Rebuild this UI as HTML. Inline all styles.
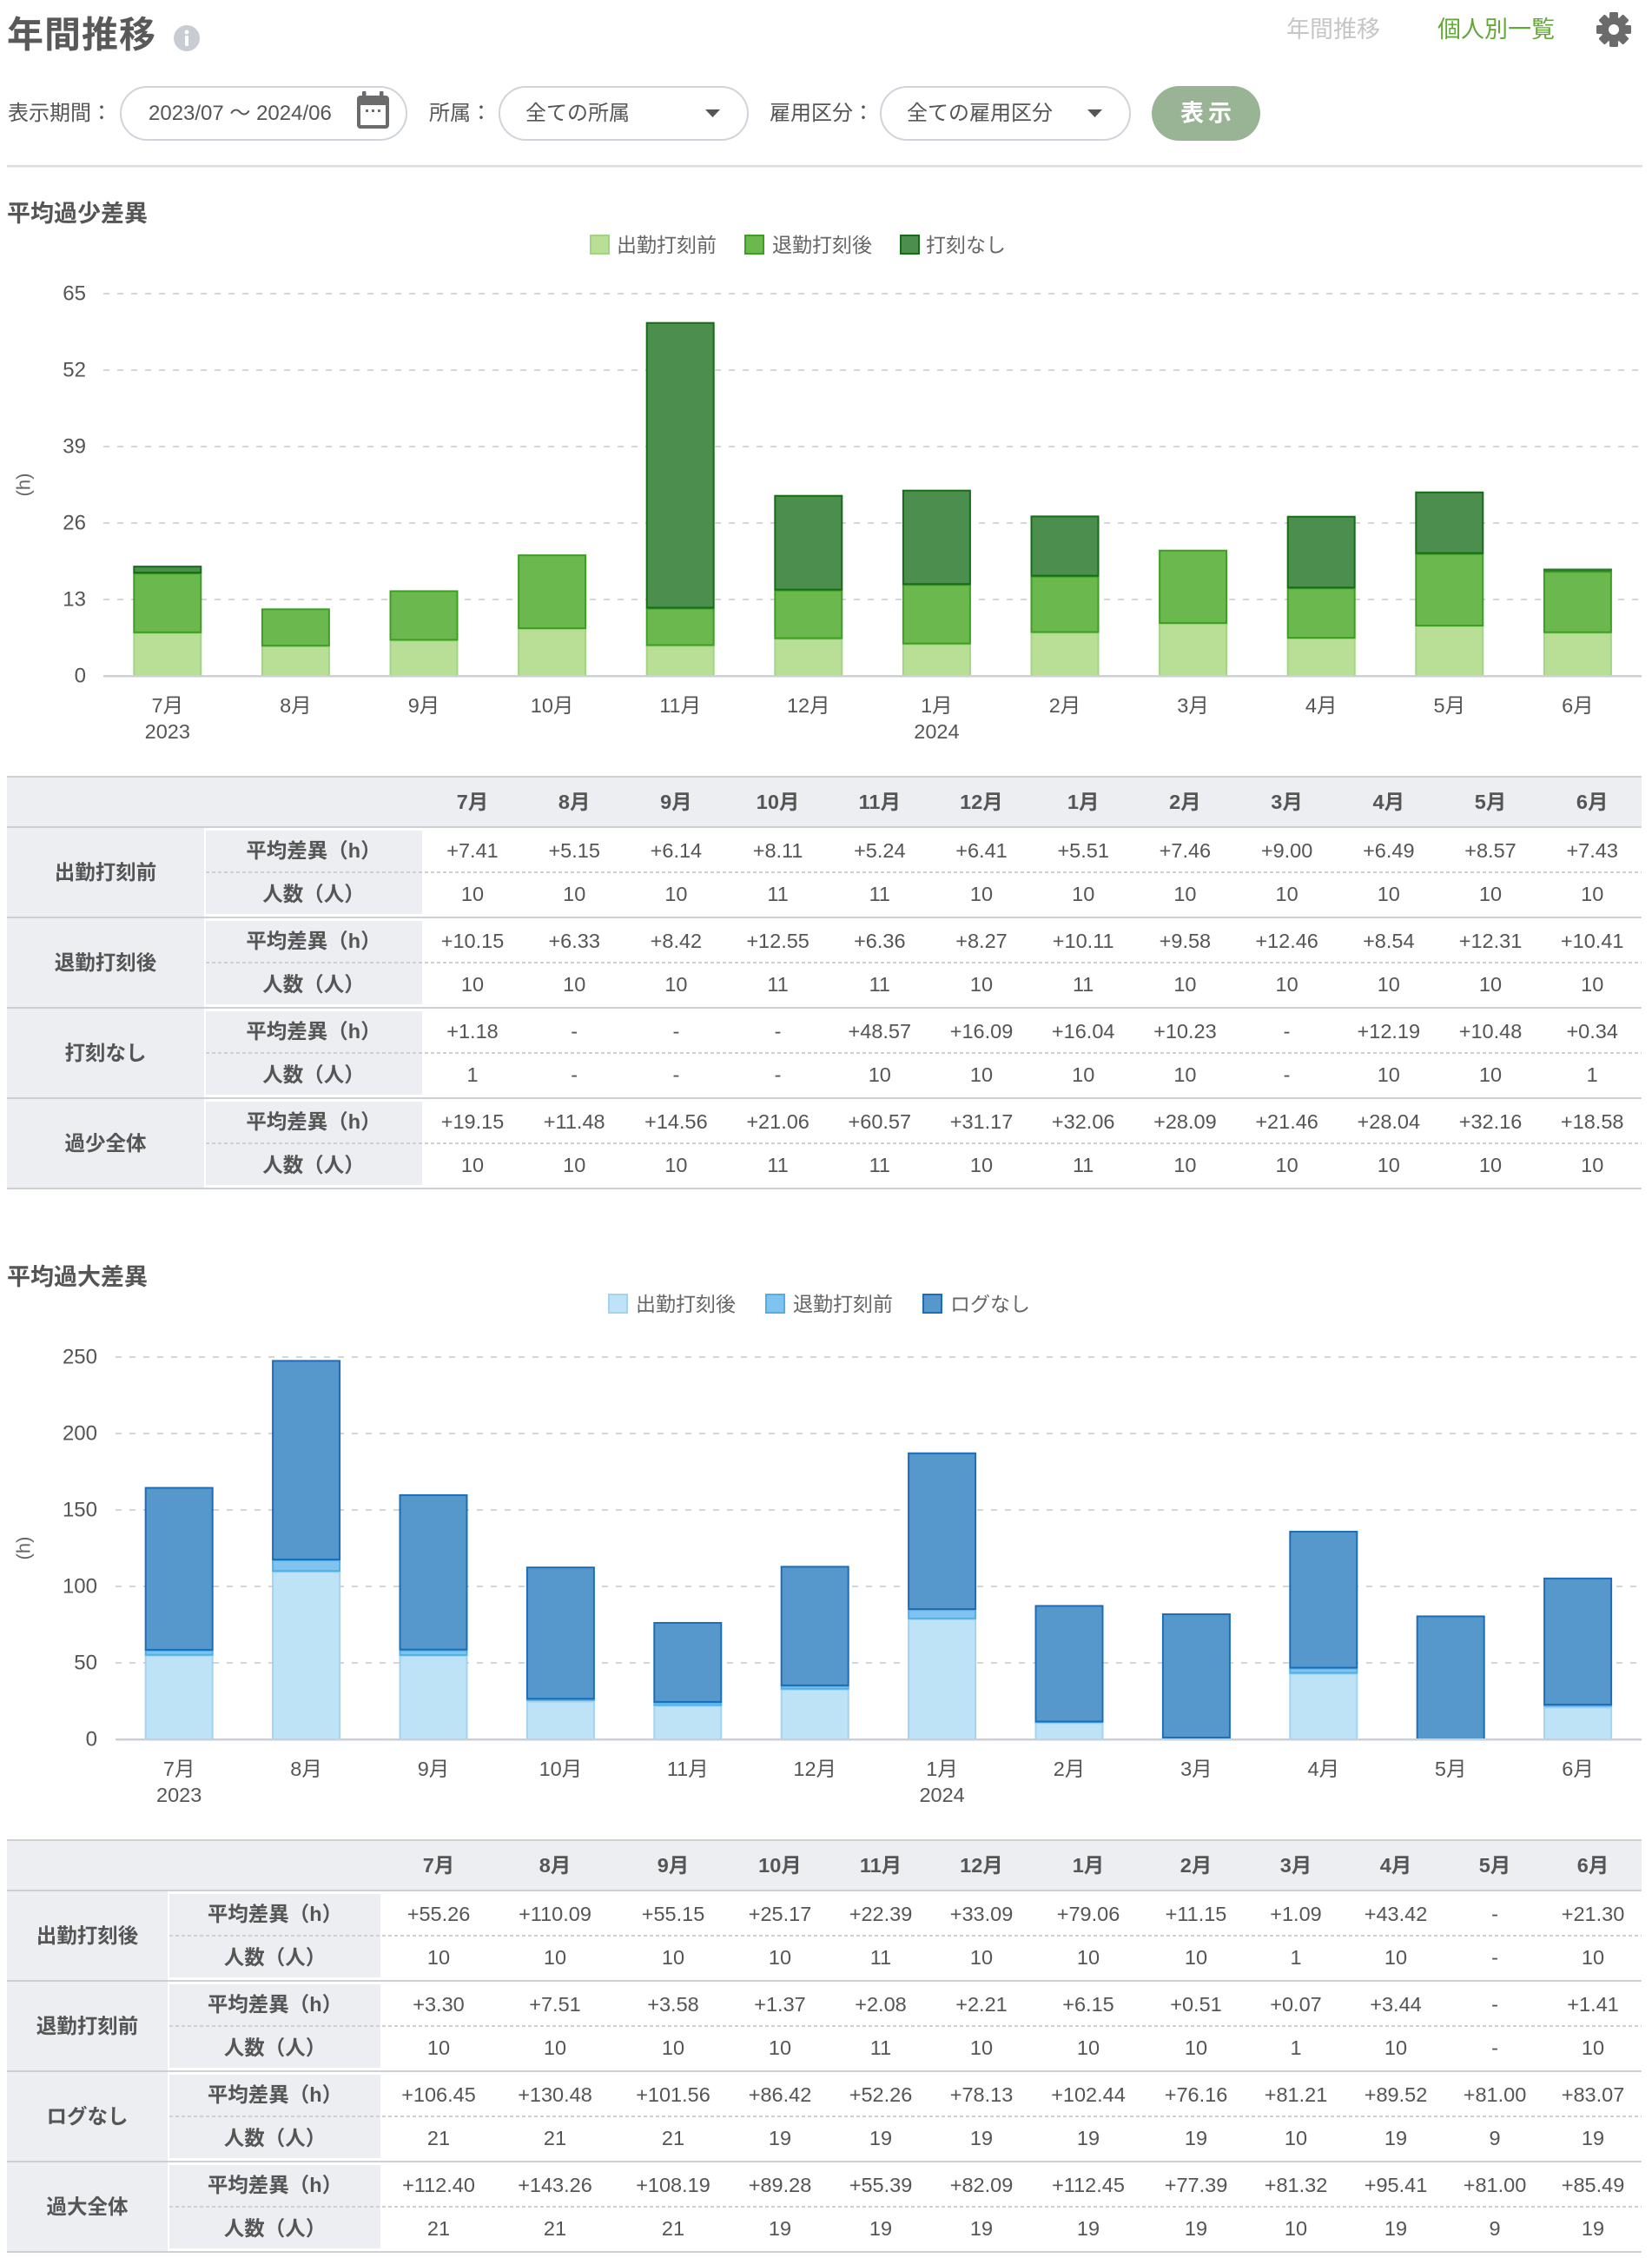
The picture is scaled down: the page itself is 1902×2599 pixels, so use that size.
<!DOCTYPE html>
<html><head><meta charset="utf-8">
<style>
html,body{margin:0;padding:0;background:#fff;}
body{width:1902px;height:2599px;overflow:hidden;}
svg{display:block;font-family:"Liberation Sans","Noto Sans CJK JP",sans-serif;}
text{fill:#555;dominant-baseline:central;}
.b{font-weight:bold;}
.m{text-anchor:middle;}
.e{text-anchor:end;}
</style></head><body>
<svg width="1902" height="2599" viewBox="0 0 1902 2599" xmlns="http://www.w3.org/2000/svg">
<!-- ===== Header ===== -->
<text x="8" y="40" font-size="42" class="b" style="fill:#595959" letter-spacing="1">年間推移</text>
<circle cx="215" cy="44" r="15" fill="#c8cdd3"/>
<circle cx="215" cy="37" r="2.4" fill="#fff"/>
<rect x="213" y="41" width="4" height="12" rx="1" fill="#fff"/>
<text x="1481" y="34" font-size="27" style="fill:#c6c6c6">年間推移</text>
<text x="1655" y="34" font-size="27" style="fill:#62a834">個人別一覧</text>
<g transform="translate(1858,34)" fill="#6b6b6b">
<circle r="14.5"/>
<rect x="-5" y="-20" width="10" height="40" rx="1.5"/>
<rect x="-5" y="-20" width="10" height="40" rx="1.5" transform="rotate(45)"/>
<rect x="-5" y="-20" width="10" height="40" rx="1.5" transform="rotate(90)"/>
<rect x="-5" y="-20" width="10" height="40" rx="1.5" transform="rotate(135)"/>
<circle r="6" fill="#fff"/>
</g>
<!-- filters -->
<text x="9" y="130.5" font-size="24">表示期間：</text>
<rect x="139" y="100" width="329" height="61" rx="30.5" fill="#fff" stroke="#cfd4da" stroke-width="2"/>
<text x="171" y="130.5" font-size="24">2023/07 〜 2024/06</text>
<g fill="#6b6b6b">
<rect x="417" y="105" width="4.5" height="9" rx="1"/>
<rect x="437" y="105" width="4.5" height="9" rx="1"/>
<rect x="411" y="110" width="37" height="38" rx="4"/>
<rect x="415" y="121" width="29" height="23" fill="#fff"/>
<rect x="421" y="126" width="3" height="3"/>
<rect x="428" y="126" width="3" height="3"/>
<rect x="435" y="126" width="3" height="3"/>
</g>
<text x="494" y="130.5" font-size="24">所属：</text>
<rect x="575" y="100" width="286" height="61" rx="30.5" fill="#fff" stroke="#cfd4da" stroke-width="2"/>
<text x="605" y="130.5" font-size="24">全ての所属</text>
<polygon points="812,126 829,126 820.5,135" fill="#555"/>
<text x="886" y="130.5" font-size="24">雇用区分：</text>
<rect x="1014" y="100" width="287" height="61" rx="30.5" fill="#fff" stroke="#cfd4da" stroke-width="2"/>
<text x="1044" y="130.5" font-size="24">全ての雇用区分</text>
<polygon points="1252,126 1269,126 1260.5,135" fill="#555"/>
<rect x="1326" y="99" width="125" height="63" rx="31.5" fill="#98b494"/>
<text x="1391" y="130.5" font-size="27" class="b m" style="fill:#fff" letter-spacing="5">表示</text>
<rect x="8" y="190" width="1883" height="2.5" fill="#dadde1"/>

<!-- ===== Chart 1 ===== -->
<text x="8" y="246" font-size="27" class="b">平均過少差異</text>
<rect x="680" y="271" width="21" height="21" fill="#b9df96" stroke="#a2d583" stroke-width="2"/>
<text x="710" y="282" font-size="23" style="fill:#666">出勤打刻前</text>
<rect x="858" y="271" width="21" height="21" fill="#6ab84e" stroke="#3c9f22" stroke-width="2"/>
<text x="889" y="282" font-size="23" style="fill:#666">退勤打刻後</text>
<rect x="1037" y="271" width="21" height="21" fill="#4b8e4d" stroke="#156d16" stroke-width="2"/>
<text x="1066" y="282" font-size="23" style="fill:#666">打刻なし</text>
<g stroke="#d3d6db" stroke-width="2" stroke-dasharray="7 9">
<line x1="119" x2="1890" y1="338" y2="338"/>
<line x1="119" x2="1890" y1="426" y2="426"/>
<line x1="119" x2="1890" y1="514" y2="514"/>
<line x1="119" x2="1890" y1="602" y2="602"/>
<line x1="119" x2="1890" y1="690" y2="690"/>
</g>
<g font-size="24" class="e">
<text x="99" y="338" class="e">65</text>
<text x="99" y="426" class="e">52</text>
<text x="99" y="514" class="e">39</text>
<text x="99" y="602" class="e">26</text>
<text x="99" y="690" class="e">13</text>
<text x="99" y="778" class="e">0</text>
</g>
<text transform="translate(27,558) rotate(-90)" font-size="22" class="m" style="fill:#666">(h)</text>
<!-- bars chart1 -->
<g stroke-width="2">
<g fill="#b9df96" stroke="#a2d583">
<rect x="154.3" y="728.84" width="77" height="49.16"/>
<rect x="301.9" y="744.14" width="77" height="33.86"/>
<rect x="449.5" y="737.44" width="77" height="40.56"/>
<rect x="597.1" y="724.10" width="77" height="53.90"/>
<rect x="744.7" y="743.53" width="77" height="34.47"/>
<rect x="892.3" y="735.61" width="77" height="42.39"/>
<rect x="1039.9" y="741.70" width="77" height="36.30"/>
<rect x="1187.5" y="728.50" width="77" height="49.50"/>
<rect x="1335.1" y="718.08" width="77" height="59.92"/>
<rect x="1482.7" y="735.07" width="77" height="42.93"/>
<rect x="1630.3" y="720.99" width="77" height="57.01"/>
<rect x="1777.9" y="728.70" width="77" height="49.30"/>
</g>
<g fill="#6ab84e" stroke="#3c9f22">
<rect x="154.3" y="660.13" width="77" height="67.71"/>
<rect x="301.9" y="701.29" width="77" height="41.85"/>
<rect x="449.5" y="680.44" width="77" height="56.00"/>
<rect x="597.1" y="639.15" width="77" height="83.95"/>
<rect x="744.7" y="700.48" width="77" height="42.05"/>
<rect x="892.3" y="679.63" width="77" height="54.98"/>
<rect x="1039.9" y="673.26" width="77" height="67.44"/>
<rect x="1187.5" y="663.65" width="77" height="63.85"/>
<rect x="1335.1" y="633.74" width="77" height="83.34"/>
<rect x="1482.7" y="677.26" width="77" height="56.81"/>
<rect x="1630.3" y="637.66" width="77" height="82.33"/>
<rect x="1777.9" y="658.23" width="77" height="69.47"/>
</g>
<g fill="#4b8e4d" stroke="#156d16">
<rect x="154.3" y="652.14" width="77" height="6.99"/>
<rect x="744.7" y="371.70" width="77" height="327.78"/>
<rect x="892.3" y="570.71" width="77" height="107.92"/>
<rect x="1039.9" y="564.68" width="77" height="107.58"/>
<rect x="1187.5" y="594.40" width="77" height="68.25"/>
<rect x="1482.7" y="594.74" width="77" height="81.52"/>
<rect x="1630.3" y="566.72" width="77" height="69.94"/>
</g>
<rect x="1776.9" y="654.5" width="79" height="3" fill="#2a7a2b" stroke="none"/>
</g>
<rect x="119" y="777" width="1771" height="2.5" fill="#cbd0d6"/>
<g font-size="23.5">
<text x="192.8" y="812" class="m">7月</text>
<text x="192.8" y="842" class="m">2023</text>
<text x="340.4" y="812" class="m">8月</text>
<text x="488" y="812" class="m">9月</text>
<text x="635.6" y="812" class="m">10月</text>
<text x="783.2" y="812" class="m">11月</text>
<text x="930.8" y="812" class="m">12月</text>
<text x="1078.4" y="812" class="m">1月</text>
<text x="1078.4" y="842" class="m">2024</text>
<text x="1226" y="812" class="m">2月</text>
<text x="1373.6" y="812" class="m">3月</text>
<text x="1521.2" y="812" class="m">4月</text>
<text x="1668.8" y="812" class="m">5月</text>
<text x="1816.4" y="812" class="m">6月</text>
</g>

<!-- ===== Table 1 ===== -->
<rect x="8" y="895" width="1882" height="56" fill="#eceef1"/>
<g fill="#eceef1">
<rect x="8" y="953" width="227" height="102"/>
<rect x="8" y="1057" width="227" height="102"/>
<rect x="8" y="1161" width="227" height="102"/>
<rect x="8" y="1265" width="227" height="102"/>
<rect x="237" y="956" width="249" height="96"/>
<rect x="237" y="1060" width="249" height="96"/>
<rect x="237" y="1164" width="249" height="96"/>
<rect x="237" y="1268" width="249" height="96"/>
</g>
<g fill="#cdd1d6">
<rect x="8" y="893" width="1882" height="2"/>
<rect x="8" y="951" width="1882" height="2"/>
<rect x="8" y="1055" width="1882" height="2"/>
<rect x="8" y="1159" width="1882" height="2"/>
<rect x="8" y="1263" width="1882" height="2"/>
<rect x="8" y="1367" width="1882" height="2"/>
</g>
<g stroke="#cdd1d6" stroke-width="2" stroke-dasharray="4 3">
<line x1="237" x2="1890" y1="1004" y2="1004"/>
<line x1="237" x2="1890" y1="1108" y2="1108"/>
<line x1="237" x2="1890" y1="1212" y2="1212"/>
<line x1="237" x2="1890" y1="1316" y2="1316"/>
</g>
<g font-size="23.5" class="m">
<g class="b">
<text x="544" y="923" class="m b">7月</text>
<text x="661.2" y="923" class="m b">8月</text>
<text x="778.4" y="923" class="m b">9月</text>
<text x="895.6" y="923" class="m b">10月</text>
<text x="1012.8" y="923" class="m b">11月</text>
<text x="1130" y="923" class="m b">12月</text>
<text x="1247.2" y="923" class="m b">1月</text>
<text x="1364.4" y="923" class="m b">2月</text>
<text x="1481.6" y="923" class="m b">3月</text>
<text x="1598.8" y="923" class="m b">4月</text>
<text x="1716" y="923" class="m b">5月</text>
<text x="1833.2" y="923" class="m b">6月</text>
<text x="121.5" y="1004" class="m b">出勤打刻前</text>
<text x="121.5" y="1108" class="m b">退勤打刻後</text>
<text x="121.5" y="1212" class="m b">打刻なし</text>
<text x="121.5" y="1316" class="m b">過少全体</text>
<text x="361" y="979" class="m b">平均差異（h）</text>
<text x="361" y="1029" class="m b">人数（人）</text>
<text x="361" y="1083" class="m b">平均差異（h）</text>
<text x="361" y="1133" class="m b">人数（人）</text>
<text x="361" y="1187" class="m b">平均差異（h）</text>
<text x="361" y="1237" class="m b">人数（人）</text>
<text x="361" y="1291" class="m b">平均差異（h）</text>
<text x="361" y="1341" class="m b">人数（人）</text>
</g>
<!-- row 1 -->
<text x="544" y="979" class="m">+7.41</text><text x="661.2" y="979" class="m">+5.15</text><text x="778.4" y="979" class="m">+6.14</text><text x="895.6" y="979" class="m">+8.11</text><text x="1012.8" y="979" class="m">+5.24</text><text x="1130" y="979" class="m">+6.41</text><text x="1247.2" y="979" class="m">+5.51</text><text x="1364.4" y="979" class="m">+7.46</text><text x="1481.6" y="979" class="m">+9.00</text><text x="1598.8" y="979" class="m">+6.49</text><text x="1716" y="979" class="m">+8.57</text><text x="1833.2" y="979" class="m">+7.43</text>
<text x="544" y="1029" class="m">10</text><text x="661.2" y="1029" class="m">10</text><text x="778.4" y="1029" class="m">10</text><text x="895.6" y="1029" class="m">11</text><text x="1012.8" y="1029" class="m">11</text><text x="1130" y="1029" class="m">10</text><text x="1247.2" y="1029" class="m">10</text><text x="1364.4" y="1029" class="m">10</text><text x="1481.6" y="1029" class="m">10</text><text x="1598.8" y="1029" class="m">10</text><text x="1716" y="1029" class="m">10</text><text x="1833.2" y="1029" class="m">10</text>
<!-- row 2 -->
<text x="544" y="1083" class="m">+10.15</text><text x="661.2" y="1083" class="m">+6.33</text><text x="778.4" y="1083" class="m">+8.42</text><text x="895.6" y="1083" class="m">+12.55</text><text x="1012.8" y="1083" class="m">+6.36</text><text x="1130" y="1083" class="m">+8.27</text><text x="1247.2" y="1083" class="m">+10.11</text><text x="1364.4" y="1083" class="m">+9.58</text><text x="1481.6" y="1083" class="m">+12.46</text><text x="1598.8" y="1083" class="m">+8.54</text><text x="1716" y="1083" class="m">+12.31</text><text x="1833.2" y="1083" class="m">+10.41</text>
<text x="544" y="1133" class="m">10</text><text x="661.2" y="1133" class="m">10</text><text x="778.4" y="1133" class="m">10</text><text x="895.6" y="1133" class="m">11</text><text x="1012.8" y="1133" class="m">11</text><text x="1130" y="1133" class="m">10</text><text x="1247.2" y="1133" class="m">11</text><text x="1364.4" y="1133" class="m">10</text><text x="1481.6" y="1133" class="m">10</text><text x="1598.8" y="1133" class="m">10</text><text x="1716" y="1133" class="m">10</text><text x="1833.2" y="1133" class="m">10</text>
<!-- row 3 -->
<text x="544" y="1187" class="m">+1.18</text><text x="661.2" y="1187" class="m">-</text><text x="778.4" y="1187" class="m">-</text><text x="895.6" y="1187" class="m">-</text><text x="1012.8" y="1187" class="m">+48.57</text><text x="1130" y="1187" class="m">+16.09</text><text x="1247.2" y="1187" class="m">+16.04</text><text x="1364.4" y="1187" class="m">+10.23</text><text x="1481.6" y="1187" class="m">-</text><text x="1598.8" y="1187" class="m">+12.19</text><text x="1716" y="1187" class="m">+10.48</text><text x="1833.2" y="1187" class="m">+0.34</text>
<text x="544" y="1237" class="m">1</text><text x="661.2" y="1237" class="m">-</text><text x="778.4" y="1237" class="m">-</text><text x="895.6" y="1237" class="m">-</text><text x="1012.8" y="1237" class="m">10</text><text x="1130" y="1237" class="m">10</text><text x="1247.2" y="1237" class="m">10</text><text x="1364.4" y="1237" class="m">10</text><text x="1481.6" y="1237" class="m">-</text><text x="1598.8" y="1237" class="m">10</text><text x="1716" y="1237" class="m">10</text><text x="1833.2" y="1237" class="m">1</text>
<!-- row 4 -->
<text x="544" y="1291" class="m">+19.15</text><text x="661.2" y="1291" class="m">+11.48</text><text x="778.4" y="1291" class="m">+14.56</text><text x="895.6" y="1291" class="m">+21.06</text><text x="1012.8" y="1291" class="m">+60.57</text><text x="1130" y="1291" class="m">+31.17</text><text x="1247.2" y="1291" class="m">+32.06</text><text x="1364.4" y="1291" class="m">+28.09</text><text x="1481.6" y="1291" class="m">+21.46</text><text x="1598.8" y="1291" class="m">+28.04</text><text x="1716" y="1291" class="m">+32.16</text><text x="1833.2" y="1291" class="m">+18.58</text>
<text x="544" y="1341" class="m">10</text><text x="661.2" y="1341" class="m">10</text><text x="778.4" y="1341" class="m">10</text><text x="895.6" y="1341" class="m">11</text><text x="1012.8" y="1341" class="m">11</text><text x="1130" y="1341" class="m">10</text><text x="1247.2" y="1341" class="m">11</text><text x="1364.4" y="1341" class="m">10</text><text x="1481.6" y="1341" class="m">10</text><text x="1598.8" y="1341" class="m">10</text><text x="1716" y="1341" class="m">10</text><text x="1833.2" y="1341" class="m">10</text>
</g>

<!-- ===== Chart 2 ===== -->
<text x="8" y="1470" font-size="27" class="b">平均過大差異</text>
<rect x="701" y="1490" width="21" height="21" fill="#bee2f6" stroke="#a3d3f1" stroke-width="2"/>
<text x="732" y="1501" font-size="23" style="fill:#666">出勤打刻後</text>
<rect x="882" y="1490" width="21" height="21" fill="#7fc3ee" stroke="#4fb0e9" stroke-width="2"/>
<text x="913" y="1501" font-size="23" style="fill:#666">退勤打刻前</text>
<rect x="1063" y="1490" width="21" height="21" fill="#5698cc" stroke="#1c6db8" stroke-width="2"/>
<text x="1094" y="1501" font-size="23" style="fill:#666">ログなし</text>
<g stroke="#d3d6db" stroke-width="2" stroke-dasharray="7 9">
<line x1="133" x2="1890" y1="1562" y2="1562"/>
<line x1="133" x2="1890" y1="1650" y2="1650"/>
<line x1="133" x2="1890" y1="1738" y2="1738"/>
<line x1="133" x2="1890" y1="1826" y2="1826"/>
<line x1="133" x2="1890" y1="1914" y2="1914"/>
</g>
<g font-size="24">
<text x="112" y="1562" class="e">250</text>
<text x="112" y="1650" class="e">200</text>
<text x="112" y="1738" class="e">150</text>
<text x="112" y="1826" class="e">100</text>
<text x="112" y="1914" class="e">50</text>
<text x="112" y="2002" class="e">0</text>
</g>
<text transform="translate(27,1782) rotate(-90)" font-size="22" class="m" style="fill:#666">(h)</text>
<g stroke-width="2">
<g fill="#bee2f6" stroke="#a3d3f1">
<rect x="167.7" y="1905.74" width="77" height="96.26"/>
<rect x="314.1" y="1809.24" width="77" height="192.76"/>
<rect x="460.5" y="1905.94" width="77" height="96.06"/>
<rect x="606.9" y="1958.70" width="77" height="43.30"/>
<rect x="753.3" y="1963.59" width="77" height="38.41"/>
<rect x="899.7" y="1944.76" width="77" height="57.24"/>
<rect x="1046.1" y="1863.85" width="77" height="138.15"/>
<rect x="1192.5" y="1983.38" width="77" height="18.62"/>
<rect x="1485.3" y="1926.58" width="77" height="75.42"/>
<rect x="1778.1" y="1965.51" width="77" height="36.49"/>
</g>
<rect x="1337.9" y="2000" width="79" height="2" fill="#a3d3f1" stroke="none"/>
<g fill="#7fc3ee" stroke="#4fb0e9">
<rect x="167.7" y="1899.93" width="77" height="4.81"/>
<rect x="314.1" y="1796.02" width="77" height="12.22"/>
<rect x="460.5" y="1899.64" width="77" height="5.30"/>
<rect x="753.3" y="1959.93" width="77" height="2.66"/>
<rect x="899.7" y="1940.87" width="77" height="2.89"/>
<rect x="1046.1" y="1853.03" width="77" height="9.82"/>
<rect x="1485.3" y="1920.53" width="77" height="5.05"/>
</g>
<g fill="#4fb0e9" stroke="none">
<rect x="605.9" y="1955.3" width="79" height="2.6"/>
<rect x="1191.5" y="1981.4" width="79" height="1.8"/>
<rect x="1777.1" y="1962" width="79" height="2.6"/>
</g>
<g fill="#5698cc" stroke="#1c6db8">
<rect x="167.7" y="1712.58" width="77" height="186.35"/>
<rect x="314.1" y="1566.38" width="77" height="228.64"/>
<rect x="460.5" y="1720.89" width="77" height="177.75"/>
<rect x="606.9" y="1804.19" width="77" height="151.10"/>
<rect x="753.3" y="1867.95" width="77" height="90.98"/>
<rect x="899.7" y="1803.36" width="77" height="136.51"/>
<rect x="1046.1" y="1672.74" width="77" height="179.29"/>
<rect x="1192.5" y="1848.44" width="77" height="133.04"/>
<rect x="1338.9" y="1858.03" width="77" height="141.93"/>
<rect x="1485.3" y="1762.97" width="77" height="156.56"/>
<rect x="1631.7" y="1860.44" width="77" height="141.56"/>
<rect x="1778.1" y="1816.83" width="77" height="145.20"/>
</g>
</g>
<rect x="133" y="2001" width="1757" height="2.5" fill="#cbd0d6"/>
<g font-size="23.5">
<text x="206.2" y="2036" class="m">7月</text>
<text x="206.2" y="2066" class="m">2023</text>
<text x="352.6" y="2036" class="m">8月</text>
<text x="499" y="2036" class="m">9月</text>
<text x="645.4" y="2036" class="m">10月</text>
<text x="791.8" y="2036" class="m">11月</text>
<text x="938.2" y="2036" class="m">12月</text>
<text x="1084.6" y="2036" class="m">1月</text>
<text x="1084.6" y="2066" class="m">2024</text>
<text x="1231" y="2036" class="m">2月</text>
<text x="1377.4" y="2036" class="m">3月</text>
<text x="1523.8" y="2036" class="m">4月</text>
<text x="1670.2" y="2036" class="m">5月</text>
<text x="1816.6" y="2036" class="m">6月</text>
</g>

<!-- ===== Table 2 ===== -->
<rect x="8" y="2119" width="1882" height="56" fill="#eceef1"/>
<g fill="#eceef1">
<rect x="8" y="2177" width="185" height="102"/>
<rect x="8" y="2281" width="185" height="102"/>
<rect x="8" y="2385" width="185" height="102"/>
<rect x="8" y="2489" width="185" height="102"/>
<rect x="195" y="2180" width="243" height="96"/>
<rect x="195" y="2284" width="243" height="96"/>
<rect x="195" y="2388" width="243" height="96"/>
<rect x="195" y="2492" width="243" height="96"/>
</g>
<g fill="#cdd1d6">
<rect x="8" y="2117" width="1882" height="2"/>
<rect x="8" y="2175" width="1882" height="2"/>
<rect x="8" y="2279" width="1882" height="2"/>
<rect x="8" y="2383" width="1882" height="2"/>
<rect x="8" y="2487" width="1882" height="2"/>
<rect x="8" y="2591" width="1882" height="2"/>
</g>
<g stroke="#cdd1d6" stroke-width="2" stroke-dasharray="4 3">
<line x1="195" x2="1890" y1="2228" y2="2228"/>
<line x1="195" x2="1890" y1="2332" y2="2332"/>
<line x1="195" x2="1890" y1="2436" y2="2436"/>
<line x1="195" x2="1890" y1="2540" y2="2540"/>
</g>
<g font-size="23.5">
<text x="505" y="2147" class="m b">7月</text>
<text x="639" y="2147" class="m b">8月</text>
<text x="775" y="2147" class="m b">9月</text>
<text x="898" y="2147" class="m b">10月</text>
<text x="1014" y="2147" class="m b">11月</text>
<text x="1130" y="2147" class="m b">12月</text>
<text x="1253" y="2147" class="m b">1月</text>
<text x="1377" y="2147" class="m b">2月</text>
<text x="1492" y="2147" class="m b">3月</text>
<text x="1607" y="2147" class="m b">4月</text>
<text x="1721" y="2147" class="m b">5月</text>
<text x="1834" y="2147" class="m b">6月</text>
<text x="100.5" y="2228" class="m b">出勤打刻後</text>
<text x="100.5" y="2332" class="m b">退勤打刻前</text>
<text x="100.5" y="2436" class="m b">ログなし</text>
<text x="100.5" y="2540" class="m b">過大全体</text>
<text x="316.5" y="2203" class="m b">平均差異（h）</text>
<text x="316.5" y="2253" class="m b">人数（人）</text>
<text x="316.5" y="2307" class="m b">平均差異（h）</text>
<text x="316.5" y="2357" class="m b">人数（人）</text>
<text x="316.5" y="2411" class="m b">平均差異（h）</text>
<text x="316.5" y="2461" class="m b">人数（人）</text>
<text x="316.5" y="2515" class="m b">平均差異（h）</text>
<text x="316.5" y="2565" class="m b">人数（人）</text>
<!-- row1 -->
<text x="505" y="2203" class="m">+55.26</text><text x="639" y="2203" class="m">+110.09</text><text x="775" y="2203" class="m">+55.15</text><text x="898" y="2203" class="m">+25.17</text><text x="1014" y="2203" class="m">+22.39</text><text x="1130" y="2203" class="m">+33.09</text><text x="1253" y="2203" class="m">+79.06</text><text x="1377" y="2203" class="m">+11.15</text><text x="1492" y="2203" class="m">+1.09</text><text x="1607" y="2203" class="m">+43.42</text><text x="1721" y="2203" class="m">-</text><text x="1834" y="2203" class="m">+21.30</text>
<text x="505" y="2253" class="m">10</text><text x="639" y="2253" class="m">10</text><text x="775" y="2253" class="m">10</text><text x="898" y="2253" class="m">10</text><text x="1014" y="2253" class="m">11</text><text x="1130" y="2253" class="m">10</text><text x="1253" y="2253" class="m">10</text><text x="1377" y="2253" class="m">10</text><text x="1492" y="2253" class="m">1</text><text x="1607" y="2253" class="m">10</text><text x="1721" y="2253" class="m">-</text><text x="1834" y="2253" class="m">10</text>
<!-- row2 -->
<text x="505" y="2307" class="m">+3.30</text><text x="639" y="2307" class="m">+7.51</text><text x="775" y="2307" class="m">+3.58</text><text x="898" y="2307" class="m">+1.37</text><text x="1014" y="2307" class="m">+2.08</text><text x="1130" y="2307" class="m">+2.21</text><text x="1253" y="2307" class="m">+6.15</text><text x="1377" y="2307" class="m">+0.51</text><text x="1492" y="2307" class="m">+0.07</text><text x="1607" y="2307" class="m">+3.44</text><text x="1721" y="2307" class="m">-</text><text x="1834" y="2307" class="m">+1.41</text>
<text x="505" y="2357" class="m">10</text><text x="639" y="2357" class="m">10</text><text x="775" y="2357" class="m">10</text><text x="898" y="2357" class="m">10</text><text x="1014" y="2357" class="m">11</text><text x="1130" y="2357" class="m">10</text><text x="1253" y="2357" class="m">10</text><text x="1377" y="2357" class="m">10</text><text x="1492" y="2357" class="m">1</text><text x="1607" y="2357" class="m">10</text><text x="1721" y="2357" class="m">-</text><text x="1834" y="2357" class="m">10</text>
<!-- row3 -->
<text x="505" y="2411" class="m">+106.45</text><text x="639" y="2411" class="m">+130.48</text><text x="775" y="2411" class="m">+101.56</text><text x="898" y="2411" class="m">+86.42</text><text x="1014" y="2411" class="m">+52.26</text><text x="1130" y="2411" class="m">+78.13</text><text x="1253" y="2411" class="m">+102.44</text><text x="1377" y="2411" class="m">+76.16</text><text x="1492" y="2411" class="m">+81.21</text><text x="1607" y="2411" class="m">+89.52</text><text x="1721" y="2411" class="m">+81.00</text><text x="1834" y="2411" class="m">+83.07</text>
<text x="505" y="2461" class="m">21</text><text x="639" y="2461" class="m">21</text><text x="775" y="2461" class="m">21</text><text x="898" y="2461" class="m">19</text><text x="1014" y="2461" class="m">19</text><text x="1130" y="2461" class="m">19</text><text x="1253" y="2461" class="m">19</text><text x="1377" y="2461" class="m">19</text><text x="1492" y="2461" class="m">10</text><text x="1607" y="2461" class="m">19</text><text x="1721" y="2461" class="m">9</text><text x="1834" y="2461" class="m">19</text>
<!-- row4 -->
<text x="505" y="2515" class="m">+112.40</text><text x="639" y="2515" class="m">+143.26</text><text x="775" y="2515" class="m">+108.19</text><text x="898" y="2515" class="m">+89.28</text><text x="1014" y="2515" class="m">+55.39</text><text x="1130" y="2515" class="m">+82.09</text><text x="1253" y="2515" class="m">+112.45</text><text x="1377" y="2515" class="m">+77.39</text><text x="1492" y="2515" class="m">+81.32</text><text x="1607" y="2515" class="m">+95.41</text><text x="1721" y="2515" class="m">+81.00</text><text x="1834" y="2515" class="m">+85.49</text>
<text x="505" y="2565" class="m">21</text><text x="639" y="2565" class="m">21</text><text x="775" y="2565" class="m">21</text><text x="898" y="2565" class="m">19</text><text x="1014" y="2565" class="m">19</text><text x="1130" y="2565" class="m">19</text><text x="1253" y="2565" class="m">19</text><text x="1377" y="2565" class="m">19</text><text x="1492" y="2565" class="m">10</text><text x="1607" y="2565" class="m">19</text><text x="1721" y="2565" class="m">9</text><text x="1834" y="2565" class="m">19</text>
</g>
</svg>
</body></html>
